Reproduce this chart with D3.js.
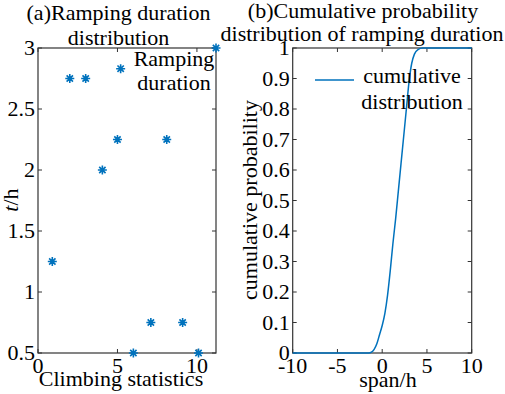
<!DOCTYPE html>
<html>
<head>
<meta charset="utf-8">
<script src="https://cdn.jsdelivr.net/npm/d3@7"></script>
</head>
<body style="margin:0; background:#fff">
<div id="chart"></div>
<script>
var W = 505, H = 394;

// (a) climbing statistics vs ramping duration
var climbX = [0.9, 2, 3, 4.05, 5, 5.2, 6, 7.1, 8.1, 9.1, 10.1, 11.2];
var durY = [1.25, 2.75, 2.75, 2, 2.25, 2.83, 0.5, 0.75, 2.25, 0.75, 0.5, 3];
var aTicksX = [0, 5, 10];
var aTicksY = [0.5, 1, 1.5, 2, 2.5, 3];

// (b) cumulative distribution
var spanX = [-10, -1.5, -1.2, -0.9, -0.6, -0.3, 0, 0.3, 0.6, 0.9, 1.2, 1.5, 1.8, 2.1, 2.4, 2.7, 3.0, 3.3, 3.6, 4.0, 4.5, 10];
var cumP = [0, 0, 0.003, 0.012, 0.03, 0.06, 0.09, 0.13, 0.19, 0.27, 0.36, 0.44, 0.53, 0.62, 0.71, 0.8, 0.89, 0.95, 0.98, 0.995, 1, 1];
var bTicksX = [-10, -5, 0, 5, 10];
var bTicksY = d3.range(0, 11).map(d => d / 10);

var blue = "#0072BD";
var axisCol = "#333";

var svg = d3.select("#chart").append("svg")
    .attr("width", W)
    .attr("height", H);

// every label goes through here so the serif font sticks
function label(g, x, y, s, anchor) {
    return g.append("text")
        .attr("x", x).attr("y", y)
        .attr("font-family", "Liberation Serif")
        .attr("font-size", 22)
        .attr("fill", "#000")
        .attr("text-anchor", anchor || "middle")
        .text(s);
}

function drawBox(g, x, y, xt, yt) {
    var x0 = x.range()[0], x1 = x.range()[1], y0 = y.range()[0], y1 = y.range()[1];
    var ax = g.append("g").attr("stroke", axisCol).attr("stroke-width", 1);
    ax.append("rect")
        .attr("x", x0).attr("y", y1)
        .attr("width", x1 - x0).attr("height", y0 - y1)
        .attr("fill", "none").attr("stroke-width", 1.2);
    // inward ticks on all four sides (matlab box)
    xt.forEach(t => {
        ax.append("line").attr("x1", x(t)).attr("x2", x(t)).attr("y1", y0).attr("y2", y0 - 4);
        ax.append("line").attr("x1", x(t)).attr("x2", x(t)).attr("y1", y1).attr("y2", y1 + 4);
    });
    yt.forEach(t => {
        ax.append("line").attr("x1", x0).attr("x2", x0 + 4).attr("y1", y(t)).attr("y2", y(t));
        ax.append("line").attr("x1", x1).attr("x2", x1 - 4).attr("y1", y(t)).attr("y2", y(t));
    });
    xt.forEach(t => label(g, x(t), y0 + 20, t));
    yt.forEach(t => label(g, x0 - 3, y(t) + 7, t, "end"));
}

// 8-armed asterisk like matlab '*'
function asterisk(r) {
    var p = "";
    for (var k = 0; k < 4; k++) {
        var a = k * Math.PI / 4, dx = r * Math.cos(a), dy = r * Math.sin(a);
        p += `M${-dx},${-dy}L${dx},${dy}`;
    }
    return p;
}

// ---------- (a)
var xa = d3.scaleLinear().domain([0, 11.2]).range([38, 216]);
var ya = d3.scaleLinear().domain([0.5, 3]).range([353, 48]);
var ga = svg.append("g");
drawBox(ga, xa, ya, aTicksX, aTicksY);

ga.selectAll(".pt").data(climbX).enter().append("path")
    .attr("d", asterisk(4.5))
    .attr("transform", (d, i) => `translate(${xa(d)},${ya(durY[i])})`)
    .attr("fill", "none")
    .attr("stroke", blue)
    .attr("stroke-width", 1.6);

label(ga, 118.5, 20, "(a)Ramping duration");
label(ga, 118.5, 45, "distribution");
label(ga, 174, 66, "Ramping");
label(ga, 174, 90, "duration");
label(ga, 121, 386, "Climbing statistics");
var yl = label(ga, 0, 0, "").attr("transform", "translate(18,200) rotate(-90)");
yl.append("tspan").attr("font-style", "italic").text("t");
yl.append("tspan").text("/h");

// ---------- (b)
var xb = d3.scaleLinear().domain([-10, 10]).range([292.7, 471.7]);
var yb = d3.scaleLinear().domain([0, 1]).range([353, 48]);
var gb = svg.append("g");
drawBox(gb, xb, yb, bTicksX, bTicksY);

var line = d3.line()
    .x(d => xb(d))
    .y((d, i) => yb(cumP[i]))
    .curve(d3.curveMonotoneX);
gb.append("path")
    .datum(spanX)
    .attr("d", line)
    .attr("fill", "none")
    .attr("stroke", blue)
    .attr("stroke-width", 1.5);

label(gb, 363, 18, "(b)Cumulative probability");
label(gb, 362, 41, "distribution of ramping duration");
gb.append("line").attr("x1", 315).attr("x2", 354).attr("y1", 80).attr("y2", 80)
    .attr("stroke", blue).attr("stroke-width", 1.5);
label(gb, 412, 83, "cumulative");
label(gb, 412, 109, "distribution");
label(gb, 388, 387, "span/h");
label(gb, 0, 0, "cumulative probability").attr("transform", "translate(257,200) rotate(-90)");
</script>
</body>
</html>
